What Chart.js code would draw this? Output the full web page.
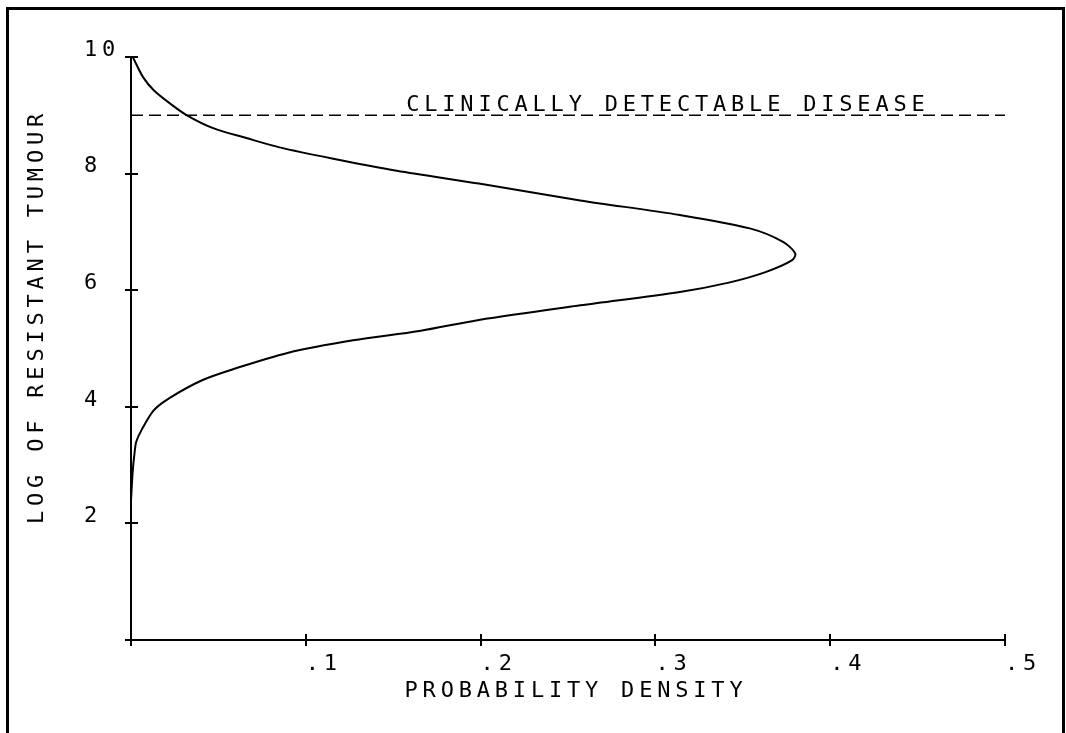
<!DOCTYPE html>
<html lang="en">
    <head>
        <meta charset="UTF-8" />
        <title>Log of resistant tumour</title>
        <script src="https://cdn.jsdelivr.net/npm/chart.js@4.4.0/dist/chart.umd.min.js"></script>
        <style>
            body { margin: 0; background: #fff; }
            .wrap { position: relative; width: 1066px; height: 733px; overflow: hidden; }
            .frame {
                position: absolute; left: 6px; top: 7px; width: 1053px; height: 760px;
                border: 3px solid #000; border-bottom: none;
            }
            canvas { position: absolute; left: 0; top: 0; }
        </style>
    </head>
    <body>
        <div class="wrap">
            <div class="frame"></div>
            <canvas id="canvas" width="1066" height="733"></canvas>
        </div>
        <script>
            // curve, bottom tail -> peak -> top tail
            var logSize = [2.4, 2.9, 3.2, 3.4, 3.6, 3.94, 4.15, 4.46, 4.66, 4.92, 5.14, 5.3, 5.49, 5.74, 5.97, 6.13, 6.31, 6.51, 6.63, 6.83, 7.06, 7.29, 7.54, 7.83, 8.05, 8.26, 8.45, 8.61, 8.78, 9.0, 9.21, 9.43, 9.65, 10.0];
            var density = [0, 0.001, 0.002, 0.003, 0.006, 0.013, 0.022, 0.041, 0.06, 0.089, 0.127, 0.165, 0.199, 0.257, 0.314, 0.342, 0.363, 0.378, 0.38, 0.373, 0.354, 0.314, 0.257, 0.199, 0.152, 0.115, 0.085, 0.066, 0.047, 0.032, 0.022, 0.013, 0.007, 0.001];

            var detectableLevel = 9;
            var thresholdX = [0, 0.5];
            var thresholdLabel = "CLINICALLY DETECTABLE DISEASE";

            var xTickLabels = ["", ".1", ".2", ".3", ".4", ".5"];
            var yTickLabels = ["", "2", "4", "6", "8", "10"];
            var xTitle = "PROBABILITY DENSITY";
            var yTitle = "LOG OF RESISTANT TUMOUR";

            var FONT = "'DejaVu Sans Mono', 'Liberation Mono', monospace";
            var SPACING = "4.8px";

            var curve = logSize.map(function (v, i) {
                return { x: density[i], y: v };
            });
            var threshold = thresholdX.map(function (v) {
                return { x: v, y: detectableLevel };
            });

            var plotterText = {
                id: "plotterText",
                beforeDraw: function (chart) {
                    chart.ctx.letterSpacing = SPACING;
                },
                afterDraw: function (chart) {
                    var ctx = chart.ctx;
                    var x = chart.scales.x;
                    var y = chart.scales.y;
                    ctx.save();
                    // inner half of the cross-shaped tick marks
                    ctx.strokeStyle = "#000";
                    ctx.lineWidth = 2;
                    ctx.beginPath();
                    x.ticks.forEach(function (t) {
                        var px = Math.round(x.getPixelForValue(t.value));
                        ctx.moveTo(px, y.bottom);
                        ctx.lineTo(px, y.bottom - 6);
                    });
                    y.ticks.forEach(function (t) {
                        var py = Math.round(y.getPixelForValue(t.value));
                        ctx.moveTo(x.left, py);
                        ctx.lineTo(x.left + 7, py);
                    });
                    ctx.stroke();

                    ctx.fillStyle = "#000";
                    ctx.font = "22px " + FONT;
                    ctx.letterSpacing = SPACING;
                    ctx.textAlign = "center";
                    ctx.textBaseline = "alphabetic";
                    ctx.fillText(xTitle, (x.left + x.right) / 2 + 8, y.bottom + 57);
                    ctx.fillText(thresholdLabel, x.getPixelForValue(0.306) + 2, y.getPixelForValue(detectableLevel) - 4);
                    ctx.translate(43, (y.top + y.bottom) / 2 - 30);
                    ctx.rotate(-Math.PI / 2);
                    ctx.fillText(yTitle, 2, 0);
                    ctx.restore();
                },
            };

            Chart.defaults.font.family = FONT;
            Chart.defaults.font.size = 22;
            Chart.defaults.color = "#000";

            var ctx = document.getElementById("canvas").getContext("2d");
            var chart = new Chart(ctx, {
                type: "scatter",
                data: {
                    datasets: [
                        {
                            data: curve,
                            showLine: true,
                            borderColor: "#000",
                            borderWidth: 2,
                            pointRadius: 0,
                            tension: 0.3,
                        },
                        {
                            data: threshold,
                            showLine: true,
                            borderColor: "#000",
                            borderWidth: 1.5,
                            borderDash: [12, 6],
                            pointRadius: 0,
                        },
                    ],
                },
                options: {
                    responsive: false,
                    animation: false,
                    layout: { padding: { left: 84, top: 57, right: 61, bottom: 0 } },
                    plugins: { legend: { display: false }, tooltip: { enabled: false } },
                    scales: {
                        x: {
                            type: "linear",
                            min: 0,
                            max: 0.5,
                            afterFit: function (scale) { scale.height = 93; },
                            border: { color: "#000", width: 2 },
                            grid: { drawOnChartArea: false, color: "#000", lineWidth: 2, tickLength: 6 },
                            ticks: {
                                stepSize: 0.1,
                                align: "start",
                                padding: 5,
                                maxRotation: 0,
                                callback: function (v, i) { return xTickLabels[i]; },
                            },
                        },
                        y: {
                            type: "linear",
                            min: 0,
                            max: 10,
                            afterFit: function (scale) { scale.width = 47; },
                            border: { color: "#000", width: 2 },
                            grid: { drawOnChartArea: false, color: "#000", lineWidth: 2, tickLength: 6 },
                            ticks: {
                                stepSize: 2,
                                crossAlign: "far",
                                labelOffset: -7,
                                callback: function (v, i) { return yTickLabels[i]; },
                            },
                        },
                    },
                },
                plugins: [plotterText],
            });
        </script>
    </body>
</html>
